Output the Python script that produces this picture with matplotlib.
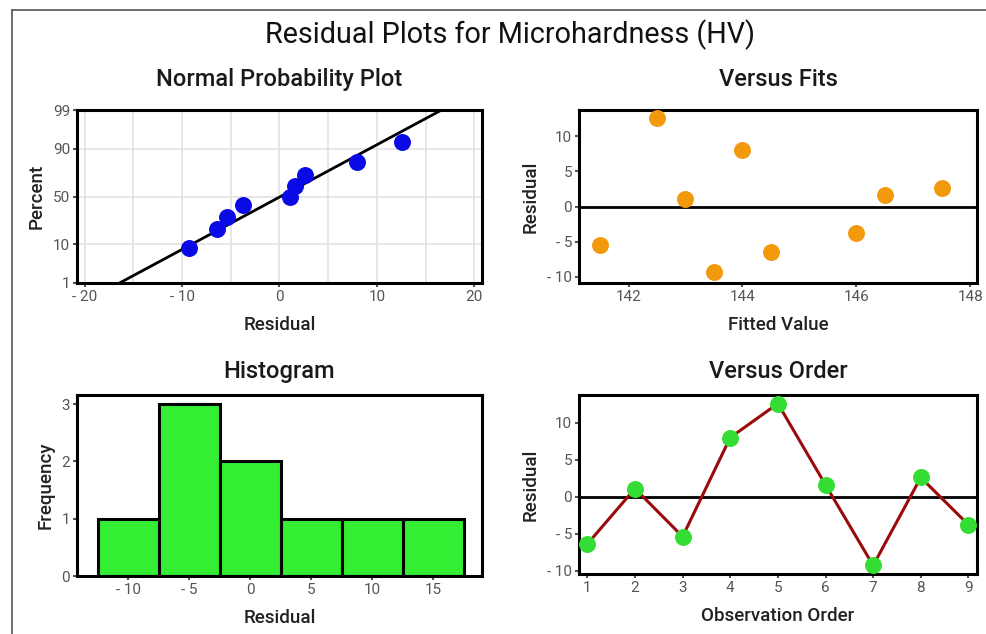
import matplotlib
matplotlib.use('Agg')
import matplotlib.pyplot as plt
from matplotlib.ticker import FixedLocator, FuncFormatter
from matplotlib.lines import Line2D
from statistics import NormalDist

plt.rcParams['font.family'] = ['Roboto', 'DejaVu Sans']

# residuals in observation order, with their fitted values
order = [1, 2, 3, 4, 5, 6, 7, 8, 9]
residuals = [-6.4, 1.1, -5.4, 8.0, 12.6, 1.6, -9.3, 2.6, -3.8]
fitted = [144.5, 143.0, 141.5, 144.0, 142.5, 146.5, 143.5, 147.5, 146.0]

# percent values of the sorted residuals on the normal probability plot
npp_percent = [8.5, 19, 29.5, 41, 50, 61, 72, 82, 93]
pct_ticks = [1, 10, 50, 90, 99]

hist_edges = [-12.5, -7.5, -2.5, 2.5, 7.5, 12.5, 17.5]

W, H = 987, 634
fig = plt.figure(figsize=(W / 100, H / 100), dpi=100)

TICK_COL = '#555555'
nd = NormalDist()


def px_axes(left, top, right, bottom):
    return fig.add_axes([left / W, 1 - bottom / H, (right - left) / W, (bottom - top) / H])


def neg_fmt(v, pos):
    v = int(round(v))
    return '- %d' % abs(v) if v < 0 else '%d' % v


def style(ax, title, xlabel, ylabel, pad):
    for s in ax.spines.values():
        s.set_linewidth(2.2)
        s.set_color('black')
    ax.tick_params(colors=TICK_COL, labelsize=11, length=3, width=1.5, pad=2)
    ax.set_title(title, fontsize=17, pad=pad, color='#1a1a1a', fontweight='medium')
    ax.set_xlabel(xlabel, fontsize=13.5, color='#222222', labelpad=9, fontweight='medium')
    ax.set_ylabel(ylabel, fontsize=13.5, color='#222222', labelpad=5, fontweight='medium')


# outer frame: left and top lines only
fig.add_artist(Line2D([11.5 / W, 11.5 / W], [0, 1 - 9.5 / H], color='#555555', lw=1.2))
fig.add_artist(Line2D([11.5 / W, 1], [1 - 9.5 / H, 1 - 9.5 / H], color='#555555', lw=1.2))

fig.text(510 / W, 1 - 35 / H, 'Residual Plots for Microhardness (HV)', ha='center', va='center',
         fontsize=20.7, color='#111111')

# normal probability plot
ax1 = px_axes(77, 110, 482, 283)
srt = sorted(residuals)
mean = sum(residuals) / len(residuals)
sd = (sum((r - mean) ** 2 for r in residuals) / (len(residuals) - 1)) ** 0.5
zlo, zhi = nd.inv_cdf(0.01), nd.inv_cdf(0.99)
ax1.plot([mean + sd * zlo, mean + sd * zhi], [zlo, zhi], color='black', lw=2, zorder=2)
ax1.scatter(srt, [nd.inv_cdf(p / 100) for p in npp_percent], s=125, color='#0a0ae6', zorder=3)
ax1.set_xlim(-20.8, 20.8)
ax1.set_ylim(zlo, zhi)
ax1.xaxis.set_major_locator(FixedLocator([-20, -10, 0, 10, 20]))
ax1.xaxis.set_minor_locator(FixedLocator([-15, -5, 5, 15]))
ax1.xaxis.set_major_formatter(FuncFormatter(neg_fmt))
ax1.yaxis.set_major_locator(FixedLocator([nd.inv_cdf(p / 100) for p in pct_ticks]))
ax1.yaxis.set_major_formatter(FuncFormatter(lambda v, pos: pct_ticks[pos] if pos is not None else ''))
ax1.grid(True, which='both', color='#e2e2e2', lw=1.2)
ax1.tick_params(which='minor', length=0)
ax1.set_axisbelow(True)
style(ax1, 'Normal Probability Plot', 'Residual', 'Percent', 17.5)

# versus fits
ax2 = px_axes(579, 110, 977, 283)
ax2.axhline(0, color='black', lw=2)
ax2.scatter(fitted, residuals, s=125, color='#f39a0c', zorder=3)
ax2.set_xlim(141.13, 148.12)
ax2.set_ylim(-10.86, 13.7)
ax2.set_xticks([142, 144, 146, 148])
ax2.set_yticks([-10, -5, 0, 5, 10])
ax2.yaxis.set_major_formatter(FuncFormatter(neg_fmt))
style(ax2, 'Versus Fits', 'Fitted Value', 'Residual', 17.5)

# histogram
ax3 = px_axes(77, 395, 482, 576)
ax3.hist(residuals, bins=hist_edges, color='#33ee33', edgecolor='black', linewidth=2.2)
ax3.set_xlim(-14.2, 19.0)
ax3.set_ylim(0, 3.16)
ax3.set_xticks([-10, -5, 0, 5, 10, 15])
ax3.set_yticks([0, 1, 2, 3])
ax3.xaxis.set_major_formatter(FuncFormatter(neg_fmt))
style(ax3, 'Histogram', 'Residual', 'Frequency', 12.5)

# versus order
ax4 = px_axes(579, 395, 977, 574)
ax4.axhline(0, color='black', lw=2)
ax4.plot(order, residuals, color='#9b0a0a', lw=2.2, zorder=2)
ax4.scatter(order, residuals, s=125, color='#33dd33', zorder=3)
ax4.set_xlim(0.825, 9.18)
ax4.set_ylim(-10.46, 13.76)
ax4.set_xticks(order)
ax4.set_yticks([-10, -5, 0, 5, 10])
ax4.yaxis.set_major_formatter(FuncFormatter(neg_fmt))
style(ax4, 'Versus Order', 'Observation Order', 'Residual', 12.5)

fig.savefig('out.png', dpi=100, facecolor='white')
